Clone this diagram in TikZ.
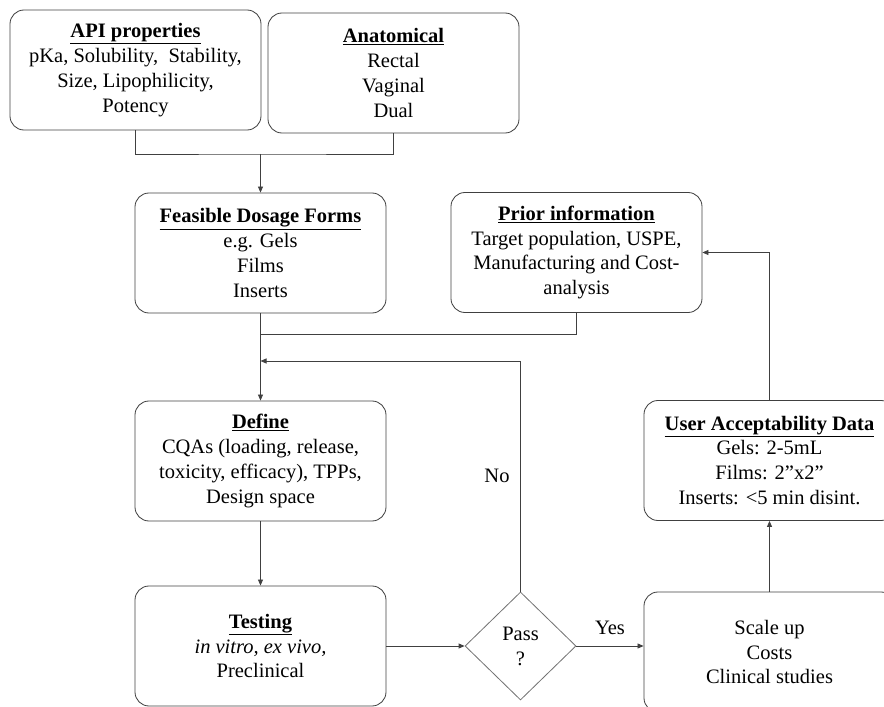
\documentclass[tikz,border=0pt]{standalone}
\usepackage{fontspec}
\setmainfont{Liberation Serif}
\usetikzlibrary{arrows.meta,shapes.geometric}

\begin{document}
\begin{tikzpicture}[x=0.03cm, y=-0.03cm,
        font = \fontsize{17.5}{21.3}\selectfont,
        box/.style = {draw=black!75, line width=0.7pt, rounded corners=0.42cm,
                      minimum width=7.53cm, minimum height=3.6cm, align=center, inner sep=0pt},
        decision/.style = {draw=black!55, line width=0.7pt, shape=diamond, aspect=1.03,
                      minimum width=3.33cm, minimum height=3.24cm, align=center, inner sep=0pt},
        link/.style = {draw=black!75, line width=0.7pt},
        arr/.style = {link, -{Triangle[length=1.8mm, width=1.5mm]}}]
        \clip (0,0) rectangle (884,707);

        \node[box] (api) at (135.5,70) {\underline{\textbf{API properties}}\\pKa, Solubility,\ \ Stability,\\Size, Lipophilicity,\\Potency};
        \node[box] (anat) at (393.5,73) {\underline{\textbf{Anatomical}}\\Rectal\\Vaginal\\Dual};
        \node[box] (feas) at (260.5,253) {\underline{\textbf{Feasible Dosage Forms}}\\e.g. Gels\\Films\\Inserts};
        \node[box] (prior) at (576.5,252.5) {\underline{\textbf{Prior information}}\\Target population, USPE,\\Manufacturing and Cost-\\analysis};
        \node[box] (define) at (260.5,461) {\underline{\textbf{Define}}\\CQAs (loading, release,\\toxicity, efficacy), TPPs,\\Design space};
        \node[box] (testing) at (260.5,646) {\underline{\textbf{Testing}}\\\textit{in vitro, ex vivo,}\\Preclinical};
        \node[decision] (pass) at (520.5,646) {Pass\\?};
        \node[box] (scale) at (769.5,652) {Scale up\\Costs\\Clinical studies};
        \node[box] (user) at (769.5,460.5) {\underline{\textbf{User Acceptability Data}}\\Gels: 2-5mL\\Films: 2”x2”\\Inserts: <5 min disint.};

        \coordinate (jtop) at (260.5,154);
        \coordinate (jmid) at (260.5,334);
        \coordinate (jloop) at (260.5,361);

        \draw[link] (api.south) |- (jtop) -| (anat.south);
        \draw[arr] (jtop) -- (feas.north);
        \draw[arr] (feas.south) -- (define.north);
        \draw[link] (prior.south) |- (jmid);
        \draw[arr] (pass.north) |- node[pos=0.25, left, xshift=-0.2cm] {No} (jloop);
        \draw[arr] (define.south) -- (testing.north);
        \draw[arr] (testing.east) -- (pass.west);
        \draw[arr] (pass.east) -- node[above, yshift=0.22cm] {Yes} (pass.east -| scale.west);
        \draw[arr] (scale.north) -- (user.south);
        \draw[arr] (user.north) |- (prior.east);
\end{tikzpicture}
\end{document}
